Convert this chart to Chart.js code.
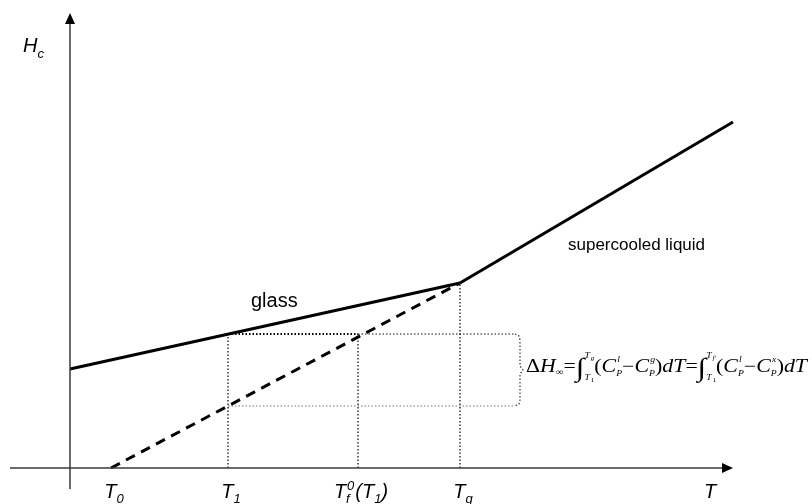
<!DOCTYPE html>
<html>
<head>
<meta charset="utf-8">
<script src="https://cdn.jsdelivr.net/npm/chart.js@4.4.1/dist/chart.umd.min.js"></script>
<style>
  html, body { margin: 0; padding: 0; background: #fff; }
  canvas { display: block; }
</style>
</head>
<body>
<canvas id="myChart" width="812" height="504"></canvas>
<script>
// schematic units: origin where the two axes cross
const glassT = [0, 390];
const glassH = [99, 185];
const liquidT = [390, 663];
const liquidH = [185, 346];
const extrapT = [41, 390];
const extrapH = [0, 185];

const T1 = 158;
const H1 = 134;      // glass enthalpy at T1
const H1extrap = 62; // extrapolated liquid at T1
const Tf = 288;
const Tg = 390;

// tick marks on the T axis
const tickT = [41, 158, 288, 390, 637];
const tickNames = ['T0', 'T1', 'Tf0(T1)', 'Tg', 'T'];

const bracketT = [445, 449, 450, 450, 453, 450, 450, 449, 445];
const bracketH = [134, 132, 128, 102, 98, 94, 68, 64, 62];

const pts = (xs, ys) => xs.map((x, i) => ({ x: x, y: ys[i] }));

function drawRuns(ctx, items, x, y, family, align) {
    const measure = () => {
        let w = 0;
        items.forEach(it => {
            let adv = 0;
            it.forEach(r => {
                ctx.font = (r[1] ? 'italic ' : '') + r[2] + 'px ' + family;
                adv = Math.max(adv, (r[4] || 0) + ctx.measureText(r[0]).width);
            });
            w += adv;
        });
        return w;
    };
    const total = measure();
    let cx = align === 'center' ? x - total / 2 : x;
    items.forEach(it => {
        let adv = 0;
        it.forEach(r => {
            ctx.font = (r[1] ? 'italic ' : '') + r[2] + 'px ' + family;
            ctx.fillText(r[0], cx + (r[4] || 0), y + r[3]);
            adv = Math.max(adv, (r[4] || 0) + ctx.measureText(r[0]).width);
        });
        cx += adv;
    });
    return total;
}

const tickRuns = {
    'T0': [[['T', 1, 20, 0]], [['0', 1, 13, 5]]],
    'T1': [[['T', 1, 20, 0]], [['1', 1, 13, 5]]],
    'Tf0(T1)': [[['T', 1, 20, 0]], [['0', 1, 13, -8, 1], ['f', 1, 13, 5, 0]], [['(T', 1, 20, 0, 1]], [['1', 1, 13, 5]], [[')', 1, 20, 0]]],
    'Tg': [[['T', 1, 20, 0]], [['g', 1, 13, 5]]],
    'T': [[['T', 1, 20, 0]]]
};

function formulaItems() {
    const cp = (sup) => [
        [['C', 1, 18, 0]],
        [[sup, 1, 8, -10, 1], ['P', 1, 8, 4, 0]]
    ];
    const lim = (upSub) => [[['T', 1, 8, -14, 0], [upSub, 1, 6, -12, 5], ['T', 1, 8, 8, 0], ['1', 0, 6, 10, 5]]];
    return [].concat(
        [[['Δ', 0, 18, 0]], [['H', 1, 18, 0]], [['∞', 0, 9, 3]], [['=', 0, 18, 0]]],
        [[['∫', 0, 26, 4]]], lim('g'),
        [[['(', 0, 18, 0]]], cp('l'), [[['−', 0, 18, 0]]], cp('g'), [[[')', 0, 18, 0]]],
        [[['d', 1, 18, 0]], [['T', 1, 18, 0]], [['=', 0, 18, 0]]],
        [[['∫', 0, 26, 4]]], lim("f'"),
        [[['(', 0, 18, 0]]], cp('l'), [[['−', 0, 18, 0]]], cp('x'), [[[')', 0, 18, 0]]],
        [[['d', 1, 18, 0]], [['T', 1, 18, 0]]]
    );
}

const sketchPlugin = {
    id: 'sketch',
    afterDatasetsDraw(chart) {
        const ctx = chart.ctx;
        const xs = chart.scales.x, ys = chart.scales.y;
        const px = v => xs.getPixelForValue(v);
        const py = v => ys.getPixelForValue(v);
        ctx.save();
        // axes with arrow heads
        ctx.strokeStyle = '#3a3a3a';
        ctx.fillStyle = '#000';
        ctx.lineWidth = 1.5;
        ctx.beginPath();
        ctx.moveTo(px(-60), py(0));
        ctx.lineTo(px(655), py(0));
        ctx.moveTo(px(0), py(-21));
        ctx.lineTo(px(0), py(447));
        ctx.stroke();
        ctx.beginPath();
        ctx.moveTo(px(663), py(0));
        ctx.lineTo(px(652), py(0) - 5);
        ctx.lineTo(px(652), py(0) + 5);
        ctx.closePath();
        ctx.fill();
        ctx.beginPath();
        ctx.moveTo(px(0), py(455));
        ctx.lineTo(px(0) - 5, py(444));
        ctx.lineTo(px(0) + 5, py(444));
        ctx.closePath();
        ctx.fill();

        // texts
        ctx.fillStyle = '#000';
        ctx.textBaseline = 'alphabetic';
        tickT.forEach((t, i) => {
            drawRuns(ctx, tickRuns[tickNames[i]], px(t) + 3, 498, 'Liberation Sans', 'center');
        });
        drawRuns(ctx, [[['H', 1, 20, 0]], [['c', 1, 13, 6]]], 23, 52, 'Liberation Sans', 'left');

        ctx.font = '20px Liberation Sans';
        ctx.fillText('glass', 251, 307);
        ctx.font = '17px Liberation Sans';
        ctx.fillText('supercooled liquid', 568, 250);

        // formula, fitted into its box
        ctx.save();
        const items = formulaItems();
        ctx.translate(526, 372);
        const probe = document.createElement('canvas').getContext('2d');
        const w = drawRuns(probe, items, 0, 0, 'Liberation Serif', 'left');
        ctx.scale(281 / w, 1);
        drawRuns(ctx, items, 0, 0, 'Liberation Serif', 'left');
        ctx.restore();
        ctx.restore();
    }
};

const solid = { borderColor: '#000', borderWidth: 3, pointRadius: 0, fill: false };
const dotted = (w, c) => ({ borderColor: c, borderWidth: w, borderDash: [1.5, 2], pointRadius: 0, fill: false });

const data = {
    datasets: [
        Object.assign({ data: pts(glassT, glassH) }, solid),
        Object.assign({ data: pts(liquidT, liquidH) }, solid),
        Object.assign({ data: pts(extrapT, extrapH), borderDash: [10, 7] }, solid),
        Object.assign({ data: pts([T1, T1], [0, H1]) }, dotted(1.2, '#000')),
        Object.assign({ data: pts([Tf, Tf], [0, H1]) }, dotted(1.2, '#000')),
        Object.assign({ data: pts([Tg, Tg], [0, glassH[1]]) }, dotted(1.2, '#000')),
        Object.assign({ data: pts([T1, Tf], [H1, H1]) }, dotted(2.2, '#000')),
        Object.assign({ data: pts([Tf, bracketT[0]], [H1, H1]) }, dotted(1.2, '#111')),
        Object.assign({ data: pts([T1, bracketT[0]], [H1extrap, H1extrap]) }, dotted(1, '#777')),
        Object.assign({ data: pts(bracketT, bracketH) }, dotted(1.2, '#333'))
    ]
};

const config = {
    type: 'line',
    data: data,
    options: {
        responsive: false,
        animation: false,
        layout: { padding: 0 },
        scales: {
            x: { type: 'linear', min: -70, max: 742, display: false },
            y: { type: 'linear', min: -36, max: 468, display: false }
        },
        plugins: {
            legend: { display: false },
            tooltip: { enabled: false }
        }
    },
    plugins: [sketchPlugin]
};

const myChart = new Chart(document.getElementById('myChart'), config);
</script>
</body>
</html>
